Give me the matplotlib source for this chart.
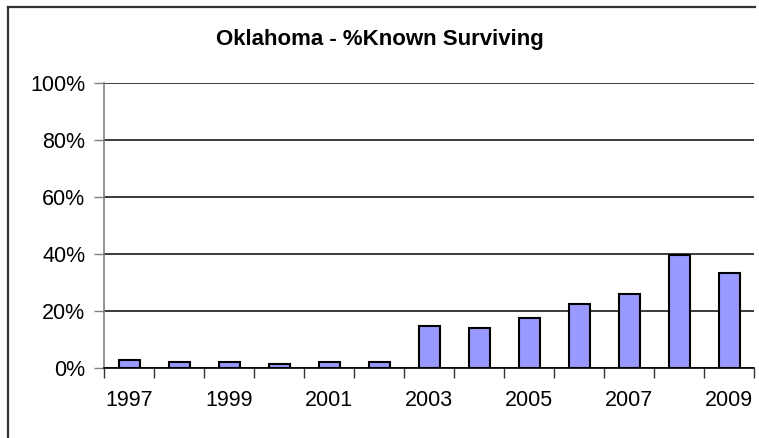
import matplotlib
matplotlib.use("Agg")
import matplotlib.pyplot as plt
from matplotlib.lines import Line2D
import numpy as np

years = ["1997", "1998", "1999", "2000", "2001", "2002", "2003",
         "2004", "2005", "2006", "2007", "2008", "2009"]
pct_surviving = [2.9, 2.2, 2.2, 1.5, 2.2, 2.2, 14.6, 13.9, 17.4, 22.3, 25.9, 39.8, 33.4]
y_ticks = [0, 20, 40, 60, 80, 100]
y_tick_labels = ["0%", "20%", "40%", "60%", "80%", "100%"]
title = "Oklahoma - %Known Surviving"

plt.rcParams['font.family'] = ['Liberation Sans', 'DejaVu Sans']

W, H = 759, 438
fig = plt.figure(figsize=(W / 100, H / 100), dpi=100)
fig.patch.set_facecolor('white')

left, right, top, bottom = 104, 754, 83, 368
ax = fig.add_axes([left / W, (H - bottom) / H, (right - left) / W, (bottom - top) / H])

x = np.arange(len(years))
ax.bar(x, pct_surviving, width=0.42, color='#9999FF', edgecolor='black', linewidth=1.5, zorder=3)

ax.set_xlim(-0.5, len(years) - 0.5)
ax.set_ylim(0, 100)

ax.set_yticks(y_ticks)
ax.set_yticklabels(y_tick_labels, fontsize=15.5)
ax.tick_params(axis='y', length=7, width=1, color='#808080', pad=6.5)
ax.yaxis.grid(True, color='#1a1a1a', linewidth=1.2, zorder=0)

ax.set_xticks(np.arange(len(years) + 1) - 0.5)
ax.set_xticklabels([])
ax.tick_params(axis='x', which='major', length=7, width=1, color='#333333')
ax.set_xticks(x[::2], minor=True)
ax.set_xticklabels(years[::2], minor=True, fontsize=15.5)
ax.tick_params(axis='x', which='minor', length=0, pad=16)

for s in ['top', 'right']:
    ax.spines[s].set_visible(False)
ax.spines['left'].set_color('#808080')
ax.spines['left'].set_linewidth(1.2)
ax.spines['bottom'].set_color('black')
ax.spines['bottom'].set_linewidth(1.2)
ax.set_axisbelow(True)

fig.text(380 / W, 1 - 39 / H, title, fontsize=16, fontweight='bold', ha='center', va='center')

# outer chart border (left and top visible)
fig.add_artist(Line2D([7.5 / W, 7.5 / W], [0, 1 - 6.5 / H], transform=fig.transFigure, color='#333333', linewidth=1.6))
fig.add_artist(Line2D([7.5 / W, 755 / W], [1 - 6.5 / H, 1 - 6.5 / H], transform=fig.transFigure, color='#333333', linewidth=1.6))

fig.savefig("out.png", dpi=100)
